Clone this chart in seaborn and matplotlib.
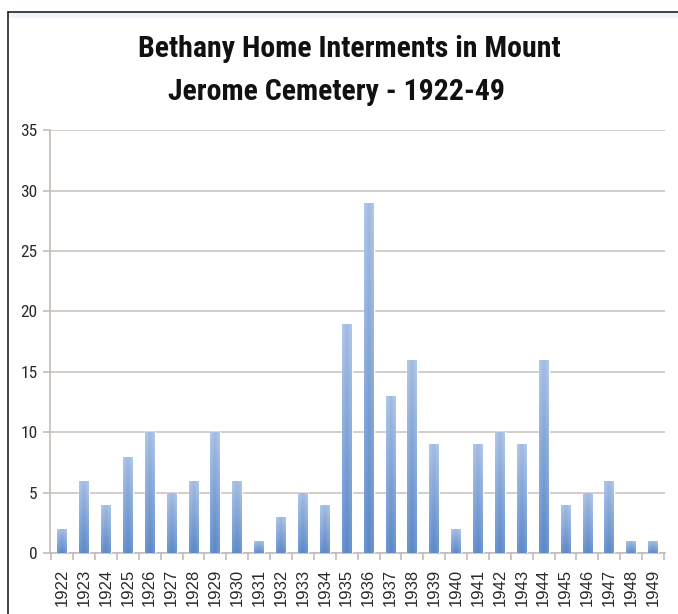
import matplotlib
matplotlib.use("Agg")
import matplotlib.pyplot as plt
import seaborn as sns
import pandas as pd
import numpy as np
from matplotlib.lines import Line2D
from matplotlib.patches import Rectangle

years = [str(y) for y in range(1922, 1950)]
interments = [2, 6, 4, 8, 10, 5, 6, 10, 6, 1, 3, 5, 4, 19, 29, 13, 16, 9, 2, 9, 10, 9, 16, 4, 5, 6, 1, 1]
yticks = [0, 5, 10, 15, 20, 25, 30, 35]
title_lines = ["Bethany Home Interments in Mount", "Jerome Cemetery - 1922-49"]

df = pd.DataFrame({"year": years, "count": interments})

sns.set_theme(style="white")
plt.rcParams['font.family'] = ['Liberation Sans', 'DejaVu Sans']

W, H = 678, 614
fig = plt.figure(figsize=(6.78, 6.14), dpi=100)
ax = fig.add_axes([0.074, 0.099, 0.907, 0.689])

sns.barplot(data=df, x="year", y="count", color="#6f95cb", saturation=1,
            width=0.45, ax=ax, zorder=3)

# gradient fill inside each bar (top lighter, bottom darker, centre darker)
top_c = np.array([0.64, 0.73, 0.87])
bot_c = np.array([0.36, 0.53, 0.77])
hh, ww = 80, 20
tv = np.linspace(1, 0, hh)[:, None, None]
xv = np.abs(np.linspace(-1, 1, ww))[None, :, None]
for p in list(ax.patches):
    x0, y0 = p.get_x(), p.get_y()
    w, h = p.get_width(), p.get_height()
    base = tv * top_c + (1 - tv) * bot_c
    img = np.clip(base + 0.06 * xv, 0, 1)
    im = ax.imshow(img, extent=[x0, x0 + w, y0, y0 + h], aspect="auto",
                   origin="upper", zorder=4, interpolation="bilinear")
    im.set_clip_path(p)

grid_c = "#cdc3bc"
ax.set_ylim(0, 35)
ax.set_yticks(yticks)
ax.set_xlim(-0.55, len(years) - 0.45)
ax.yaxis.grid(True, color=grid_c, linewidth=1.2, zorder=0)
ax.set_axisbelow(True)
for s in ["top", "right"]:
    ax.spines[s].set_visible(False)
for s in ["left", "bottom"]:
    ax.spines[s].set_color("#c2bcb8")
    ax.spines[s].set_linewidth(1.2)

ax.set_xlabel("")
ax.set_ylabel("")
ax.tick_params(axis="y", labelsize=12.5, colors="#c2bcb8", labelcolor="#2a2a2a",
               left=True, length=5, width=1.2, pad=4)
for lab in ax.get_yticklabels():
    lab.set_family(["Roboto Condensed", "DejaVu Sans"])
ax.tick_params(axis="x", labelsize=12, labelrotation=90, labelcolor="#2a2a2a",
               bottom=False, pad=5)
ax.set_xticks([i + 0.5 for i in range(-1, len(years))], minor=True)
ax.tick_params(axis="x", which="minor", bottom=True, length=5, width=1.2, colors="#c2bcb8")

tfam = ["Roboto Condensed", "DejaVu Sans"]
fig.text(349 / W, 1 - 57 / H, title_lines[0], ha="center", va="baseline",
         fontsize=21.5, fontweight="bold", color="#111111", family=tfam)
fig.text(336 / W, 1 - 100 / H, title_lines[1], ha="center", va="baseline",
         fontsize=21.5, fontweight="bold", color="#111111", family=tfam)

# outer frame
fig.add_artist(Rectangle((8 / W, 1 - 18 / H), 1, 6 / H, color="#eef4fc", lw=0))
fig.add_artist(Line2D([8 / W, 1], [1 - 12 / H, 1 - 12 / H], color="#222222", lw=1.2))
fig.add_artist(Line2D([8 / W, 8 / W], [0, 1 - 12 / H], color="#222222", lw=1.2))

fig.savefig("out.png", dpi=100)
